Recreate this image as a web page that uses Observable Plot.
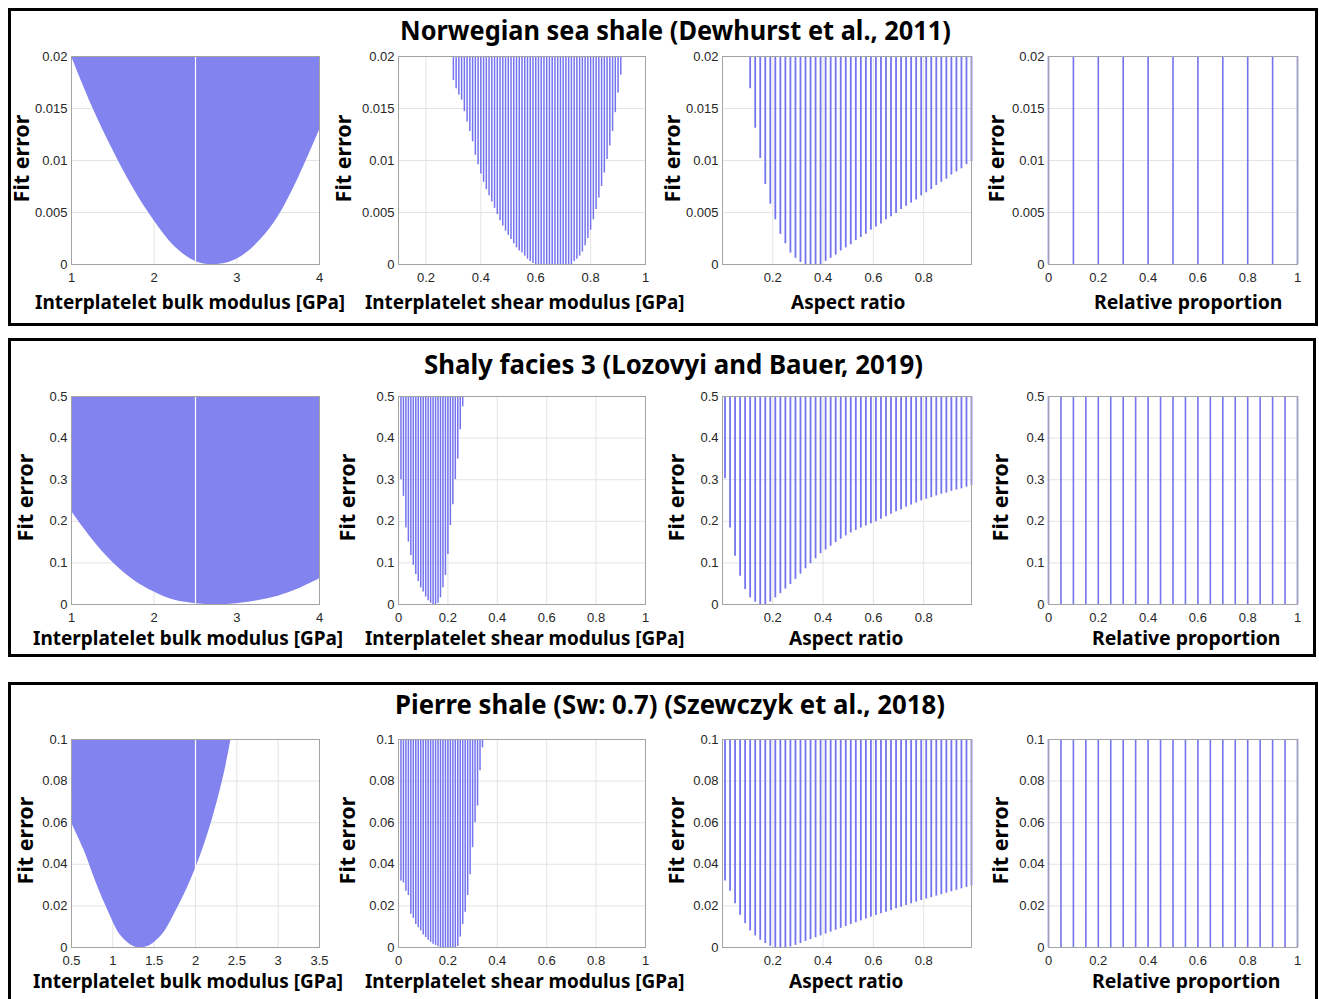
<!DOCTYPE html>
<html><head><meta charset="utf-8">
<script src="https://cdn.jsdelivr.net/npm/d3@7"></script>
<script src="https://cdn.jsdelivr.net/npm/@observablehq/plot@0.6"></script>
<style>
body{margin:0;background:#fff;}
#root{position:relative;width:1319px;height:999px;overflow:hidden;background:#fff;font-family:"Noto Sans",sans-serif;}
.box{position:absolute;border:3px solid #000;box-sizing:border-box;}
.lab{position:absolute;left:0;top:0;font-weight:bold;white-space:nowrap;color:#000;line-height:1;}
.panel{position:absolute;}
</style></head><body><div id="root"></div>
<script>
// ---------- text ----------
const titles = ["Norwegian sea shale (Dewhurst et al., 2011)", "Shaly facies 3 (Lozovyi and Bauer, 2019)", "Pierre shale (Sw: 0.7) (Szewczyk et al., 2018)"];
const xLabels = ["Interplatelet bulk modulus [GPa]", "Interplatelet shear modulus [GPa]", "Aspect ratio", "Relative proportion"];
const yLabel = "Fit error";

// ---------- y scales per row ----------
const yMax = [0.02, 0.5, 0.1];
const yTicksRow1 = [0, 0.005, 0.01, 0.015, 0.02];
const yTicksRow2 = [0, 0.1, 0.2, 0.3, 0.4, 0.5];
const yTicksRow3 = [0, 0.02, 0.04, 0.06, 0.08, 0.1];

// ---------- x domains / ticks ----------
const bulkDomain12 = [1, 4];
const bulkTicks12 = [1, 2, 3, 4];
const bulkDomain3 = [0.5, 3.5];
const bulkTicks3 = [0.5, 1, 1.5, 2, 2.5, 3, 3.5];
const shearDomain1 = [0.1, 1];
const shearTicks1 = [0.2, 0.4, 0.6, 0.8, 1];
const shearDomain23 = [0, 1];
const shearTicks23 = [0, 0.2, 0.4, 0.6, 0.8, 1];
const aspectDomain = [0, 0.99];
const aspectTicks = [0.2, 0.4, 0.6, 0.8];
const propDomain = [0, 1];
const propTicks = [0, 0.2, 0.4, 0.6, 0.8, 1];

// ---------- panel 1: bulk modulus, lower envelope of the filled region ----------
const bulkX1 = [1, 1.25, 1.5, 1.75, 2, 2.25, 2.5, 2.7, 2.9, 3.1, 3.3, 3.5, 3.75, 4];
const bulkLow1 = [0.02, 0.0152, 0.0110, 0.0073, 0.0042, 0.0017, 0.0003, 0, 0.0002, 0.001, 0.0025, 0.0046, 0.0084, 0.0129];
const bulkX2 = [1, 1.25, 1.5, 1.75, 2, 2.25, 2.5, 2.75, 3, 3.25, 3.5, 3.75, 4];
const bulkLow2 = [0.224, 0.157, 0.101, 0.059, 0.030, 0.010, 0.002, 0, 0.002, 0.009, 0.02, 0.038, 0.062];
const bulkX3 = [0.5, 0.65, 0.8, 0.95, 1.1, 1.25, 1.35, 1.45, 1.6, 1.75, 1.9, 2.05, 2.2, 2.35, 2.43];
const bulkLow3 = [0.060, 0.047, 0.031, 0.017, 0.0055, 0.0005, 0, 0.001, 0.0062, 0.0165, 0.0285, 0.043, 0.061, 0.084, 0.1];
// white gap column inside the bulk-modulus cloud
const gapX = [2.5, 2.5, 2.0];
const gapLow = [0.0003, 0.002, 0.034];

// ---------- panel 2: shear modulus lines ----------
const shearX1 = [0.30,0.31,0.32,0.33,0.34,0.35,0.36,0.37,0.38,0.39,0.40,0.41,0.42,0.43,0.44,0.45,0.46,0.47,0.48,0.49,0.50,0.51,0.52,0.53,0.54,0.55,0.56,0.57,0.58,0.59,0.60,0.61,0.62,0.63,0.64,0.65,0.66,0.67,0.68,0.69,0.70,0.71,0.72,0.73,0.74,0.75,0.76,0.77,0.78,0.79,0.80,0.81,0.82,0.83,0.84,0.85,0.86,0.87,0.88,0.89,0.90,0.91];
const shearLow1 = [0.0177,0.0169,0.0163,0.0158,0.0147,0.0137,0.0128,0.0118,0.0105,0.0096,0.0087,0.0079,0.0072,0.0066,0.0060,0.0054,0.0048,0.0042,0.0037,0.0032,0.0028,0.0024,0.0020,0.0016,0.0013,0.0011,0.0008,0.0005,0.0003,0.0001,0,0,0,0,0,0,0,0,0,0,0,0,0,0,0.0003,0.0005,0.0008,0.0012,0.0018,0.0025,0.0033,0.0043,0.0053,0.0064,0.0075,0.0088,0.0101,0.0114,0.0128,0.0146,0.0165,0.0182];
const shearX2 = [0.01,0.02,0.03,0.04,0.05,0.06,0.07,0.08,0.09,0.10,0.11,0.12,0.13,0.14,0.15,0.16,0.17,0.18,0.19,0.20,0.21,0.22,0.23,0.24,0.25,0.26];
const shearLow2 = [0.30,0.26,0.184,0.15,0.118,0.094,0.072,0.055,0.040,0.030,0.018,0.009,0.003,0,0,0.003,0.016,0.04,0.07,0.12,0.19,0.24,0.30,0.35,0.42,0.475];
const shearX3 = [0.01,0.02,0.03,0.04,0.05,0.06,0.07,0.08,0.09,0.10,0.11,0.12,0.13,0.14,0.15,0.16,0.17,0.18,0.19,0.20,0.21,0.22,0.23,0.24,0.25,0.26,0.27,0.28,0.29,0.30,0.31,0.32,0.33,0.34];
const shearLow3 = [0.032,0.031,0.027,0.025,0.016,0.014,0.011,0.0095,0.008,0.006,0.0048,0.0035,0.0025,0.0016,0.001,0.0004,0,0,0,0,0,0,0,0.0005,0.005,0.011,0.017,0.025,0.035,0.048,0.060,0.068,0.085,0.096];

// ---------- panel 3: aspect ratio lines ----------
const aspectX = [0.01,0.03,0.05,0.07,0.09,0.11,0.13,0.15,0.17,0.19,0.21,0.23,0.25,0.27,0.29,0.31,0.33,0.35,0.37,0.39,0.41,0.43,0.45,0.47,0.49,0.51,0.53,0.55,0.57,0.59,0.61,0.63,0.65,0.67,0.69,0.71,0.73,0.75,0.77,0.79,0.81,0.83,0.85,0.87,0.89,0.91,0.93,0.95,0.97,0.99];
const aspectLow1 = [null,null,null,null,null,0.0169,0.0131,0.0102,0.0077,0.0058,0.0043,0.0029,0.0020,0.0011,0.0006,0.0002,0,0,0,0,0.0003,0.0006,0.0009,0.0013,0.0016,0.0019,0.0023,0.0026,0.0029,0.0033,0.0036,0.0039,0.0043,0.0046,0.0049,0.0053,0.0056,0.0059,0.0062,0.0066,0.0069,0.0072,0.0076,0.0079,0.0082,0.0086,0.0089,0.0092,0.0096,0.0099];
const aspectLow2 = [0.302,0.184,0.116,0.068,0.036,0.016,0.0056,0,0,0.006,0.016,0.026,0.037,0.048,0.060,0.073,0.086,0.098,0.110,0.122,0.131,0.140,0.149,0.157,0.165,0.172,0.178,0.184,0.189,0.194,0.199,0.205,0.211,0.217,0.223,0.228,0.234,0.239,0.244,0.249,0.253,0.257,0.261,0.265,0.268,0.272,0.275,0.278,0.282,0.286];
const aspectLow3 = [0.032,0.027,0.021,0.0155,0.0115,0.008,0.0056,0.0035,0.0019,0.0006,0,0,0,0.0003,0.001,0.0019,0.0029,0.0038,0.0047,0.0056,0.0065,0.0074,0.0083,0.0092,0.0101,0.0110,0.0119,0.0128,0.0137,0.0146,0.0154,0.0162,0.0170,0.0178,0.0186,0.0194,0.0202,0.0210,0.0218,0.0226,0.0233,0.0240,0.0247,0.0254,0.0261,0.0268,0.0275,0.0282,0.0289,0.0296];

// ---------- panel 4: relative proportion lines ----------
const propX1 = [0,0.1,0.2,0.3,0.4,0.5,0.6,0.7,0.8,0.9,1];
const propX23 = [0,0.05,0.1,0.15,0.2,0.25,0.3,0.35,0.4,0.45,0.5,0.55,0.6,0.65,0.7,0.75,0.8,0.85,0.9,0.95,1];

// ---------- colours ----------
const fillBlue = "#8383ef";
const lineBlue = "#7474ef";
const gridGrey = "#e4e4e4";
const frameGrey = "#a3a3a3";

// ---------- layout ----------
const root = document.getElementById("root");
const frameLeft = [71, 398, 722, 1048];
const frameW = [248, 247, 249, 249];
const frameTop = [56, 396, 739];
const frameH = 208;
const mL = 60, mR = 8, mT = 8, mB = 28;
const boxes = [[8, 8, 1310, 318], [8, 338, 1308, 319], [8, 682, 1310, 330]];
const titleC = [[675, 30], [673, 364], [670, 704]];
const titleW = [551, 499, 550];
const xLabCx = [190, 524, 848, 1188];
const xLabW = [310, 319, 114, 188];
const xLabCy = [302, 638, 981];
const yLabCx = [22, 344, 673, 997];
const yLabShift = [0, 4, 4];
const yLabCy = [158, 497, 840];
const yLabLen = 88;

const fmt = d => String(d);
const yTicks = [yTicksRow1, yTicksRow2, yTicksRow3];

function addLabel(text, cx, cy, size, targetW, rotate) {
  const el = document.createElement("div");
  el.className = "lab";
  el.textContent = text;
  el.style.fontSize = size + "px";
  root.appendChild(el);
  const w = el.offsetWidth, h = el.offsetHeight;
  const k = targetW / w;
  el.style.left = (cx - w / 2) + "px";
  el.style.top = (cy - h / 2) + "px";
  el.style.transformOrigin = "50% 50%";
  el.style.transform = (rotate ? "rotate(-90deg) " : "") + "scaleX(" + k.toFixed(3) + ")";
}

function panel(r, c, xDomain, xTicks, marks) {
  const yt = yTicks[r];
  const svg = Plot.plot({
    width: frameW[c] + mL + mR,
    height: frameH + mT + mB,
    marginLeft: mL, marginRight: mR, marginTop: mT, marginBottom: mB,
    style: {fontFamily: "'Liberation Sans', Arial, sans-serif", fontSize: "13px", color: "#262626", background: "transparent", overflow: "visible"},
    x: {domain: xDomain},
    y: {domain: [0, yMax[r]]},
    marks: [
      Plot.gridX(xTicks, {stroke: gridGrey, strokeOpacity: 1}),
      Plot.gridY(yt, {stroke: gridGrey, strokeOpacity: 1}),
      ...marks,
      Plot.frame({stroke: frameGrey, strokeWidth: 1}),
      Plot.axisX(xTicks, {tickFormat: fmt, tickSize: 0, tickPadding: 8, label: null, fill: "#262626"}),
      Plot.axisY(yt, {tickFormat: fmt, tickSize: 0, tickPadding: 4, label: null, fill: "#262626"})
    ]
  });
  svg.classList.add("panel");
  svg.style.left = (frameLeft[c] - mL) + "px";
  svg.style.top = (frameTop[r] - mT) + "px";
  root.appendChild(svg);
}

// boxes
boxes.forEach(([x, y, w, h]) => {
  const b = document.createElement("div");
  b.className = "box";
  Object.assign(b.style, {left: x + "px", top: y + "px", width: w + "px", height: h + "px"});
  root.appendChild(b);
});

const bulkX = [bulkX1, bulkX2, bulkX3];
const bulkLow = [bulkLow1, bulkLow2, bulkLow3];
const shearX = [shearX1, shearX2, shearX3];
const shearLow = [shearLow1, shearLow2, shearLow3];
const aspectLow = [aspectLow1, aspectLow2, aspectLow3];
const propX = [propX1, propX23, propX23];

for (let r = 0; r < 3; r++) {
  const top = yMax[r];
  // panel 1
  const bulk = bulkX[r].map((x, i) => ({x, low: bulkLow[r][i], top}));
  const gap = [{x: gapX[r], low: gapLow[r], top}];
  panel(r, 0, r < 2 ? bulkDomain12 : bulkDomain3, r < 2 ? bulkTicks12 : bulkTicks3, [
    Plot.areaY(bulk, {x: "x", y1: "low", y2: "top", fill: fillBlue, curve: "catmull-rom"}),
    Plot.ruleX(gap, {x: "x", y1: "low", y2: "top", stroke: "#fff", strokeWidth: 1.2})
  ]);
  // panel 2
  const shear = shearX[r].map((x, i) => ({x, low: shearLow[r][i], top}));
  panel(r, 1, r === 0 ? shearDomain1 : shearDomain23, r === 0 ? shearTicks1 : shearTicks23, [
    Plot.ruleX(shear, {x: "x", y1: "low", y2: "top", stroke: lineBlue, strokeWidth: 1.5})
  ]);
  // panel 3
  const asp = aspectX.map((x, i) => ({x, low: aspectLow[r][i], top})).filter(d => d.low !== null);
  panel(r, 2, aspectDomain, aspectTicks, [
    Plot.ruleX(asp, {x: "x", y1: "low", y2: "top", stroke: lineBlue, strokeWidth: 1.8})
  ]);
  // panel 4
  const prop = propX[r].map(x => ({x, low: 0, top}));
  panel(r, 3, propDomain, propTicks, [
    Plot.ruleX(prop, {x: "x", y1: "low", y2: "top", stroke: lineBlue, strokeWidth: 1.6})
  ]);

  addLabel(titles[r], titleC[r][0], titleC[r][1], 26, titleW[r], false);
  for (let c = 0; c < 4; c++) {
    addLabel(xLabels[c], xLabCx[c] - (r > 0 && (c === 0 || c === 2 || c === 3) ? 2 : 0), xLabCy[r], 19, xLabW[c], false);
    addLabel(yLabel, yLabCx[c] + yLabShift[r], yLabCy[r], 21, yLabLen, true);
  }
}
</script>
</body></html>
